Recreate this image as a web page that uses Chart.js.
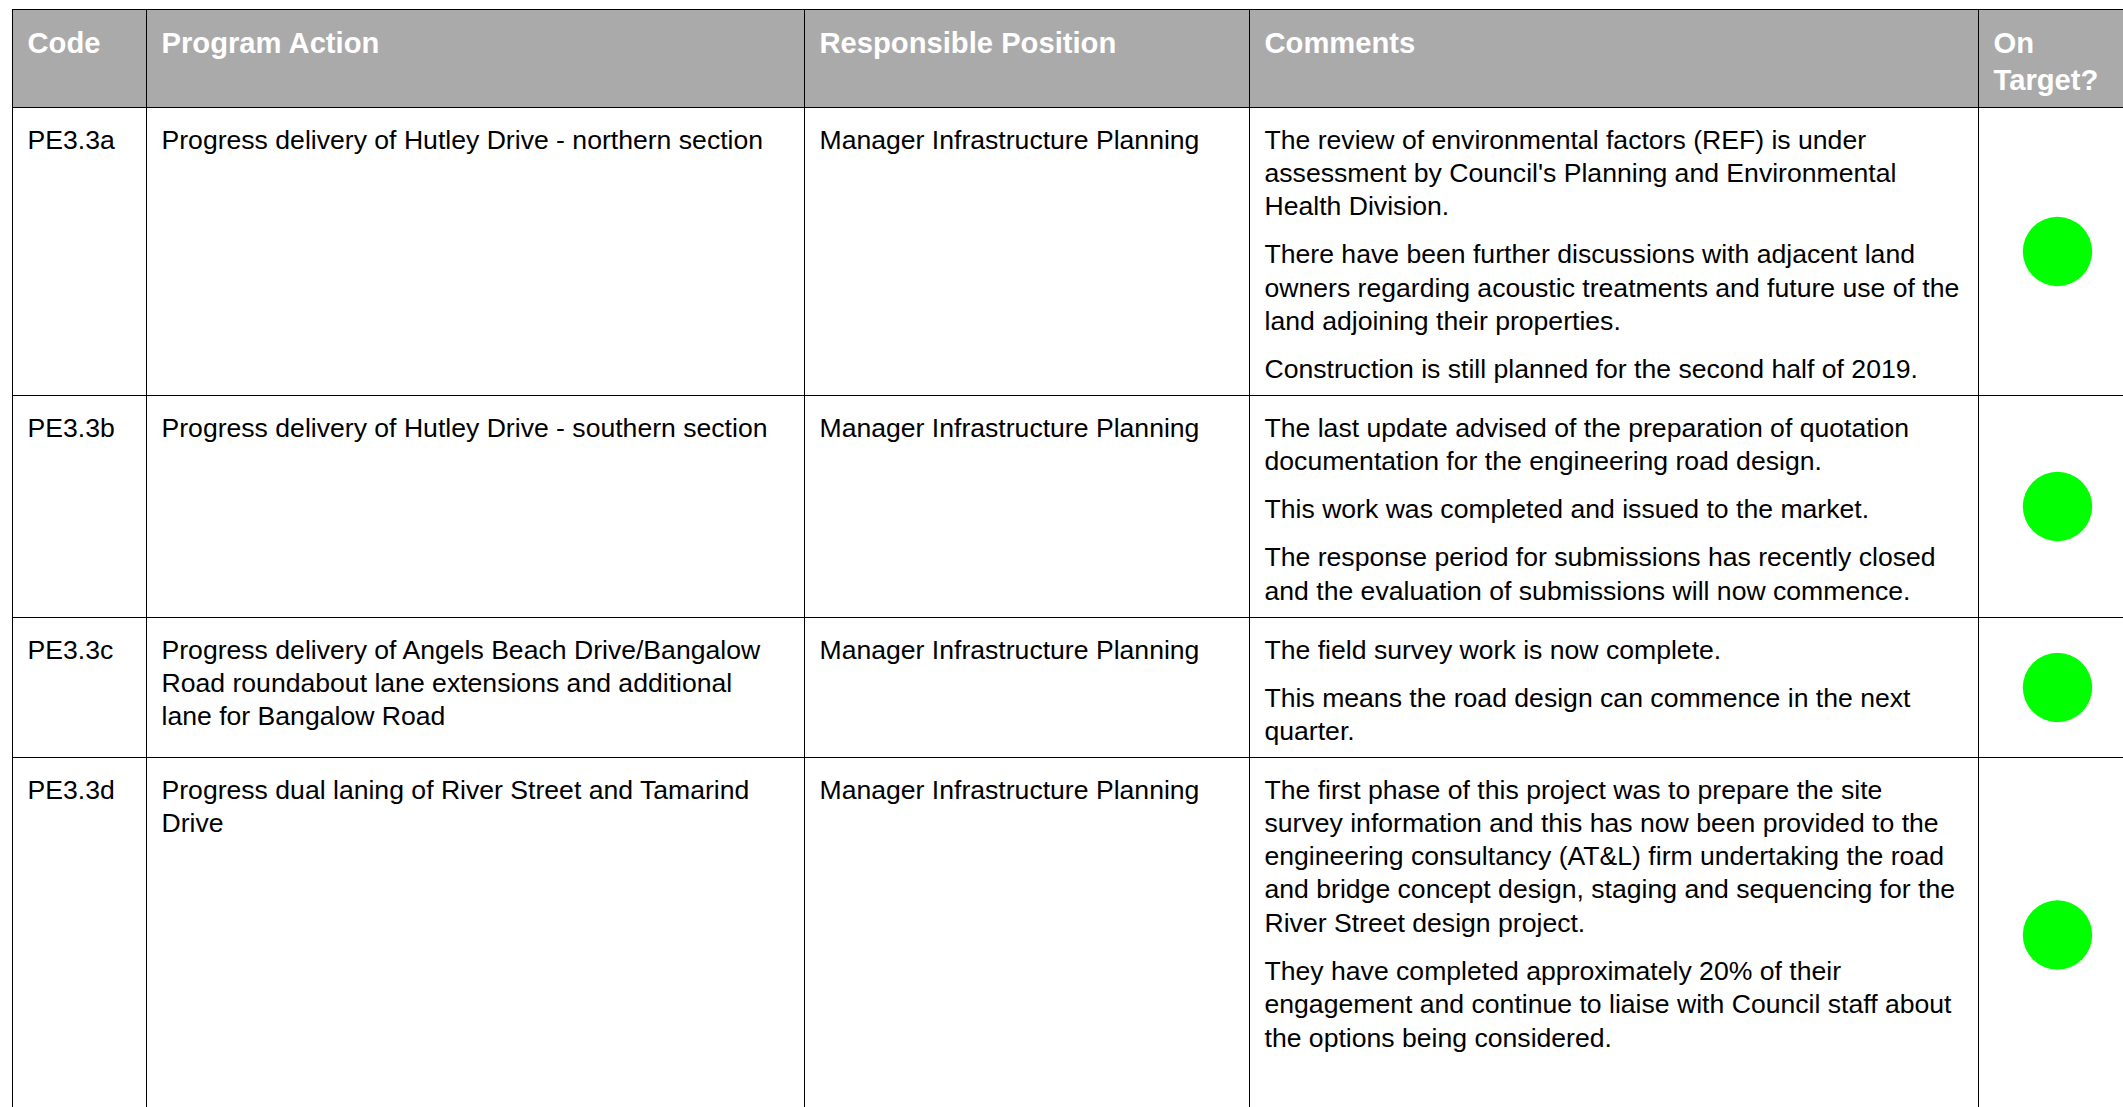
<!DOCTYPE html>
<html>
<head>
<meta charset="utf-8">
<title>Program Actions</title>
<script src="https://cdn.jsdelivr.net/npm/chart.js@4.4.0/dist/chart.umd.min.js"></script>
<style>
    html, body { margin: 0; padding: 0; background: #fff; overflow: hidden; }
    body { width: 2123px; height: 1107px; position: relative; font-family: "Liberation Sans", Arial, Helvetica, sans-serif; }
    table { position: absolute; left: 11.5px; top: 8.5px; border-collapse: collapse; table-layout: fixed; width: 2124px; }
    th, td { border: 1.5px solid #000; padding: 16px 10px 0 15px; vertical-align: top; text-align: left; color: #000; font-size: 26.6px; line-height: 33.3px; white-space: nowrap; }
    th { background: #abaaab; color: #fff; font-weight: bold; font-size: 29.2px; line-height: 37px; padding-top: 15px; }
    td p { margin: 0 0 15px 0; }
    td p:last-child { margin-bottom: 0; }
    td.status { position: relative; padding: 0; }
    td.status .wrap { position: absolute; left: 0; top: 0; right: 0; bottom: 0; }
</style>
</head>
<body>
<table id="actions">
    <colgroup>
        <col style="width:134px">
        <col style="width:658px">
        <col style="width:445px">
        <col style="width:729px">
        <col style="width:158px">
    </colgroup>
    <thead><tr id="headRow" style="height:98px"></tr></thead>
    <tbody id="rows"></tbody>
</table>

<script>
// Column headings (each entry = lines of the heading)
const headings = [['Code'], ['Program Action'], ['Responsible Position'], ['Comments'], ['On', 'Target?']];

// One entry per table row
const codes = ['PE3.3a', 'PE3.3b', 'PE3.3c', 'PE3.3d'];

const actions = [
    ['Progress delivery of Hutley Drive - northern section'],
    ['Progress delivery of Hutley Drive - southern section'],
    ['Progress delivery of Angels Beach Drive/Bangalow', 'Road roundabout lane extensions and additional', 'lane for Bangalow Road'],
    ['Progress dual laning of River Street and Tamarind', 'Drive']
];

const positions = [
    'Manager Infrastructure Planning',
    'Manager Infrastructure Planning',
    'Manager Infrastructure Planning',
    'Manager Infrastructure Planning'
];

// Comments: paragraphs, each paragraph is a list of lines
const comments = [
    [
        ['The review of environmental factors (REF) is under', 'assessment by Council\'s Planning and Environmental', 'Health Division.'],
        ['There have been further discussions with adjacent land', 'owners regarding acoustic treatments and future use of the', 'land adjoining their properties.'],
        ['Construction is still planned for the second half of 2019.']
    ],
    [
        ['The last update advised of the preparation of quotation', 'documentation for the engineering road design.'],
        ['This work was completed and issued to the market.'],
        ['The response period for submissions has recently closed', 'and the evaluation of submissions will now commence.']
    ],
    [
        ['The field survey work is now complete.'],
        ['This means the road design can commence in the next', 'quarter.']
    ],
    [
        ['The first phase of this project was to prepare the site', 'survey information and this has now been provided to the', 'engineering consultancy (AT&L) firm undertaking the road', 'and bridge concept design, staging and sequencing for the', 'River Street design project.'],
        ['They have completed approximately 20% of their', 'engagement and continue to liaise with Council staff about', 'the options being considered.']
    ]
];

// On target status (1 = on target / green)
const onTarget = [1, 1, 1, 1];

const statusColors = { 1: '#00ff00', 0: '#ff0000' };
const rowHeights = [288, 222, 140, 355];

document.addEventListener('DOMContentLoaded', function () {
    const headRow = document.getElementById('headRow');
    headings.forEach(lines => {
        const th = document.createElement('th');
        th.innerHTML = lines.join('<br>');
        headRow.appendChild(th);
    });

    const tbody = document.getElementById('rows');
    codes.forEach((code, i) => {
        const tr = document.createElement('tr');
        tr.style.height = rowHeights[i] + 'px';

        const tdCode = document.createElement('td');
        tdCode.textContent = code;
        tr.appendChild(tdCode);

        const tdAction = document.createElement('td');
        tdAction.innerHTML = actions[i].join('<br>');
        tr.appendChild(tdAction);

        const tdPos = document.createElement('td');
        tdPos.textContent = positions[i];
        tr.appendChild(tdPos);

        const tdComm = document.createElement('td');
        comments[i].forEach(par => {
            const p = document.createElement('p');
            p.innerHTML = par.map(l => l.replace(/&/g, '&amp;')).join('<br>');
            tdComm.appendChild(p);
        });
        tr.appendChild(tdComm);

        const tdStatus = document.createElement('td');
        tdStatus.className = 'status';
        const wrap = document.createElement('div');
        wrap.className = 'wrap';
        const canvas = document.createElement('canvas');
        wrap.appendChild(canvas);
        tdStatus.appendChild(wrap);
        tr.appendChild(tdStatus);

        tbody.appendChild(tr);
    });

    // One small scatter chart per row draws the status dot
    document.querySelectorAll('td.status canvas').forEach((canvas, i) => {
        new Chart(canvas, {
            type: 'scatter',
            data: {
                datasets: [{
                    label: 'On Target?',
                    data: [{ x: 0, y: onTarget[i] }],
                    backgroundColor: statusColors[onTarget[i]],
                    borderWidth: 0,
                    pointRadius: 34.7,
                    pointHoverRadius: 34.7
                }]
            },
            options: {
                responsive: true,
                maintainAspectRatio: false,
                animation: false,
                layout: { padding: { top: 7, left: 0, right: 0, bottom: 0 } },
                scales: {
                    x: { display: false, min: -1, max: 1 },
                    y: { display: false, min: onTarget[i] - 1, max: onTarget[i] + 1 }
                },
                plugins: {
                    legend: { display: false },
                    tooltip: { enabled: false }
                }
            }
        });
    });
});
</script>
</body>
</html>
